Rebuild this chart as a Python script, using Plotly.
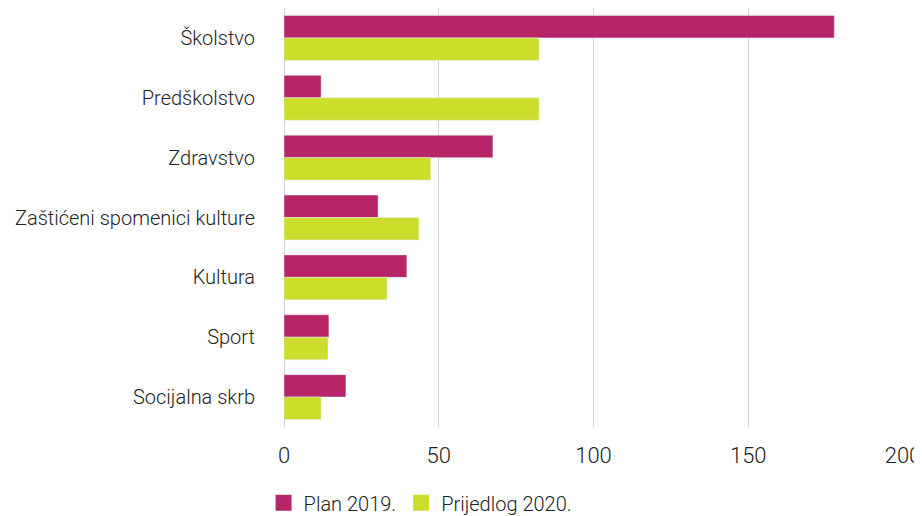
import plotly.graph_objects as go

categories = ["Školstvo", "Predškolstvo", "Zdravstvo", "Zaštićeni spomenici kulture",
              "Kultura", "Sport", "Socijalna skrb"]
plan_2019 = [177.8, 12, 67.5, 30.4, 39.7, 14.5, 20]
prijedlog_2020 = [82.4, 82.4, 47.4, 43.6, 33.3, 14.2, 12]

MAGENTA = "#B72568"
LIME = "#CCDD2B"
FONT = "Roboto"

fig = go.Figure()
fig.add_trace(go.Bar(y=categories, x=plan_2019, name="Plan 2019.",
                     orientation="h", marker_color=MAGENTA, showlegend=False))
fig.add_trace(go.Bar(y=categories, x=prijedlog_2020, name="Prijedlog 2020.",
                     orientation="h", marker_color=LIME, showlegend=False))
# legend-only entries, to get bigger square swatches
for name, col in [("Plan 2019.", MAGENTA), ("Prijedlog 2020.", LIME)]:
    fig.add_trace(go.Scatter(x=[None], y=[None], mode="markers", name=name,
                             marker=dict(symbol="square", size=16, color=col)))

# page body has an 8px margin, so the figure is a bit smaller than the window
fig.update_layout(
    width=914, height=508,
    margin=dict(l=276, r=19, t=0, b=89),
    barmode="group", bargap=0.25, bargroupgap=0,
    plot_bgcolor="white", paper_bgcolor="white",
    font=dict(family=FONT, size=20, color="#222222", weight=300),
    legend=dict(orientation="h", x=-0.033, xanchor="left",
                yref="container", y=0.026, yanchor="middle",
                font=dict(size=20, weight=300), traceorder="normal",
                itemsizing="trace", itemwidth=30),
    showlegend=True,
)
fig.update_yaxes(autorange="reversed", ticklabelstandoff=28, automargin=False,
                 tickfont=dict(size=20, weight=300), showline=False)
fig.update_xaxes(range=[0, 200], tickvals=[0, 50, 100, 150, 200], automargin=False,
                 ticklabeloverflow="allow",
                 showgrid=True, gridcolor="#d3d3d3", gridwidth=1,
                 zeroline=True, zerolinecolor="#d3d3d3", zerolinewidth=1,
                 tickfont=dict(size=22, weight=300), ticklabelstandoff=13)

fig.write_html("out.html")
